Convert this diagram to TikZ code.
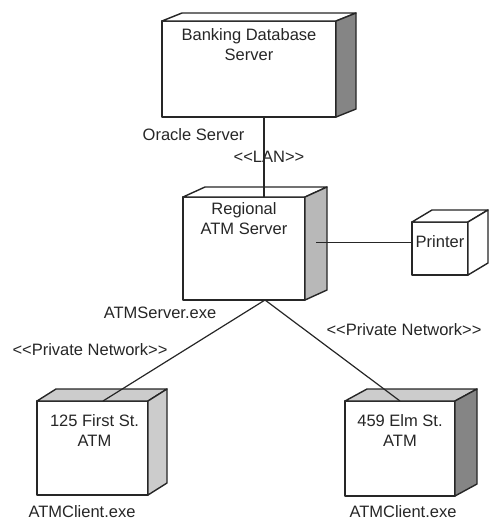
\documentclass[tikz,border=0pt]{standalone}
\usepackage{fontspec}
\setmainfont{Liberation Sans}
\usepackage{xcolor}
\usepackage{tikz}
\usetikzlibrary{positioning}

\definecolor{faceDark}{gray}{0.52}
\definecolor{faceMid}{gray}{0.72}
\definecolor{faceLight}{gray}{0.80}

% top and right faces of a device: node, depth x, depth y, top fill, side fill
\newcommand{\devicefaces}[5]{%
	\draw[device edge, fill=#4] (#1.north west) -- ++(#2,-#3) -- ([shift={(#2,-#3)}]#1.north east) -- (#1.north east) -- cycle;
	\draw[device edge, fill=#5] (#1.north east) -- ([shift={(#2,-#3)}]#1.north east) -- ([shift={(#2,-#3)}]#1.south east) -- (#1.south east) -- cycle;
}

\begin{document}
\begin{tikzpicture}[
				x=1pt, y=-1pt,
				every node/.style={font=\fontsize{16.5}{20}\selectfont, text=black!85},
				device edge/.style={draw=black!85, line width=1.4pt, line join=round},
				device/.style={device edge, fill=white, rectangle, inner sep=0pt, outer sep=0pt},
				caption/.style={anchor=north, align=center, inner sep=0pt},
				link/.style={draw=black!85, line width=1.2pt}]

			\useasboundingbox (0,0) rectangle (490,520);

			\node[device, minimum width=174pt, minimum height=96pt,
				label={[caption, yshift=-7pt]north:{Banking Database\\Server}}] (bank_server) at (249,69) {};
			\devicefaces{bank_server}{20}{8}{white}{faceDark}

			\node[device, minimum width=122pt, minimum height=103pt,
				label={[caption, yshift=-5pt]north:{Regional\\ATM Server}}] (regional_server) at (244,248.5) {};
			\devicefaces{regional_server}{22}{10}{white}{faceMid}

			\node[device, minimum width=56pt, minimum height=53pt,
				label={[caption, yshift=-13pt]north:{Printer}}] (printer) at (440,248.5) {};
			\devicefaces{printer}{20}{12}{white}{white}

			\node[device, minimum width=111pt, minimum height=94pt,
				label={[caption, yshift=-13pt, xshift=2pt]north:{125 First St.\\ATM}}] (client_first) at (92.5,448) {};
			\devicefaces{client_first}{19}{12}{faceLight}{faceLight}

			\node[device, minimum width=110pt, minimum height=95pt,
				label={[caption, yshift=-13pt]north:{459 Elm St.\\ATM}}] (client_elm) at (400,448.5) {};
			\devicefaces{client_elm}{22}{12}{faceLight}{faceDark}

			% connection points
			\coordinate (lan_top) at ([xshift=15pt]bank_server.south);
			\coordinate (net_hub) at ([xshift=21pt]regional_server.south);
			\coordinate (printer_port) at ([shift={(11,-6)}]regional_server.east);
			\coordinate (first_port) at ([xshift=10.5pt]client_first.north);

			\draw[link] (lan_top) -- (lan_top |- regional_server.north);
			\draw[link] (printer_port) -- (printer_port -| printer.west);
			\draw[link] (net_hub) -- (first_port);
			\draw[link] (net_hub) -- (client_elm.north);

			% labels
			\node[anchor=east] (oracle_label) at (248,135) {Oracle Server};
			\node (lan_label) at (269,157) {<{}<LAN>{}>};
			\node (server_exe) at (160,313) {ATMServer.exe};
			\node (net_left) at (90,350) {<{}<Private Network>{}>};
			\node (net_right) at (404,330) {<{}<Private Network>{}>};
			\node (first_exe) at (82,512) {ATMClient.exe};
			\node (elm_exe) at (403,512) {ATMClient.exe};

		\end{tikzpicture}
\end{document}
